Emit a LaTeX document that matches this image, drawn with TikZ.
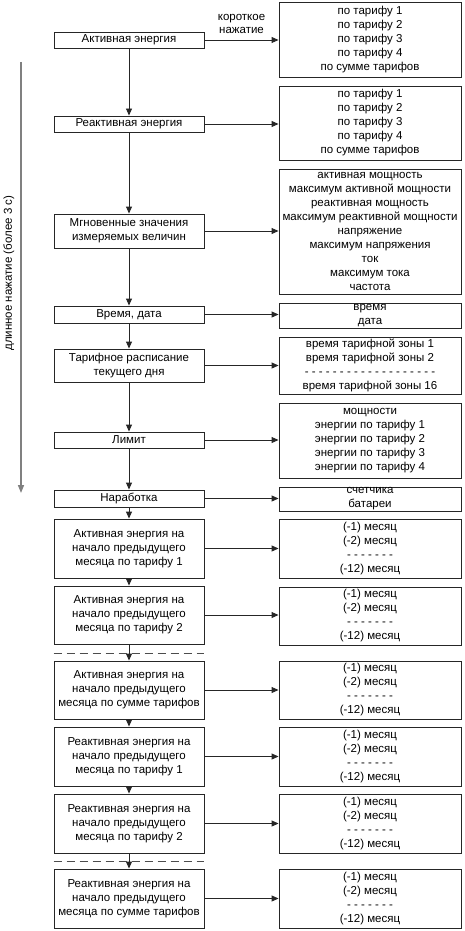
\documentclass[tikz,border=0pt]{standalone}
\usepackage{fontspec}
\setmainfont{Liberation Sans}
\usetikzlibrary{arrows.meta}

\begin{document}
\begin{tikzpicture}[
    x=1pt, y=-1pt,
    % Box styles
    menu box/.style={draw=black!85, line width=0.9pt, minimum width=150pt, inner sep=0pt, align=center, font=\fontsize{11.5}{14}\selectfont},
    list box/.style={draw=black!85, line width=0.9pt, minimum width=182pt, inner sep=0pt, align=center, font=\fontsize{11.5}{14}\selectfont},
    % Arrow styles
    my edge/.style={-{Triangle[length=7pt, width=6pt]}, line width=0.9pt, draw=black!85},
    long edge/.style={-{Triangle[length=8pt, width=6pt]}, line width=1.5pt, draw=gray},
    % Dashed separators
    sep line/.style={dash pattern=on 8pt off 5pt, line width=1pt, draw=black!70},
    edge label/.style={font=\fontsize{11.5}{13}\selectfont, align=center}
  ]
  \useasboundingbox (0,0) rectangle (464,931);

  % --- Menu Items (left column) ---
  \node[menu box, minimum height=16pt] (ae)    at (129,40)    {Активная энергия};
  \node[menu box, minimum height=16pt] (re)    at (129,124)   {Реактивная энергия};
  \node[menu box, minimum height=34pt] (inst)  at (129,231)   {Мгновенные значения\\измеряемых величин};
  \node[menu box, minimum height=17pt] (time)  at (129,314.5) {Время, дата};
  \node[menu box, minimum height=33pt] (sched) at (129,365.5) {Тарифное расписание\\текущего дня};
  \node[menu box, minimum height=16pt] (limit) at (129,440)   {Лимит};
  \node[menu box, minimum height=17pt] (run)   at (129,498.5) {Наработка};
  \node[menu box, minimum height=59pt] (aeA)   at (129,548.5) {Активная энергия на\\начало предыдущего\\месяца по тарифу 1};
  \node[menu box, minimum height=58pt] (aeB)   at (129,615)   {Активная энергия на\\начало предыдущего\\месяца по тарифу 2};
  \node[menu box, minimum height=58pt] (aeS)   at (129,690)   {Активная энергия на\\начало предыдущего\\месяца по сумме тарифов};
  \node[menu box, minimum height=59pt] (reA)   at (129,756.5) {Реактивная энергия на\\начало предыдущего\\месяца по тарифу 1};
  \node[menu box, minimum height=59pt] (reB)   at (129,823.5) {Реактивная энергия на\\начало предыдущего\\месяца по тарифу 2};
  \node[menu box, minimum height=59pt] (reS)   at (129,898.5) {Реактивная энергия на\\начало предыдущего\\месяца по сумме тарифов};

  % --- Sub-items (right column) ---
  \node[list box, minimum height=75pt]  (ae list)    at (370,39.5)  {по тарифу 1\\по тарифу 2\\по тарифу 3\\по тарифу 4\\по сумме тарифов};
  \node[list box, minimum height=74pt]  (re list)    at (370,123)   {по тарифу 1\\по тарифу 2\\по тарифу 3\\по тарифу 4\\по сумме тарифов};
  \node[list box, minimum height=125pt] (inst list)  at (370,231.5) {активная мощность\\максимум активной мощности\\реактивная мощность\\максимум реактивной мощности\\напряжение\\максимум напряжения\\ток\\максимум тока\\частота};
  \node[list box, minimum height=25pt]  (time list)  at (370,315.5) {время\\дата};
  \node[list box, minimum height=57pt]  (sched list) at (370,365.5) {время тарифной зоны 1\\время тарифной зоны 2\\- - - - - - - - - - - - - - - - - - -\\время тарифной зоны 16};
  \node[list box, minimum height=75pt]  (limit list) at (370,440.5) {мощности\\энергии по тарифу 1\\энергии по тарифу 2\\энергии по тарифу 3\\энергии по тарифу 4};
  \node[list box, minimum height=24pt]  (run list)   at (370,499)   {счетчика\\батареи};
  \node[list box, minimum height=59pt]  (aeA list)   at (370,548.5) {(-1) месяц\\(-2) месяц\\- - - - - - -\\(-12) месяц};
  \node[list box, minimum height=58pt]  (aeB list)   at (370,616)   {(-1) месяц\\(-2) месяц\\- - - - - - -\\(-12) месяц};
  \node[list box, minimum height=58pt]  (aeS list)   at (370,690)   {(-1) месяц\\(-2) месяц\\- - - - - - -\\(-12) месяц};
  \node[list box, minimum height=59pt]  (reA list)   at (370,756.5) {(-1) месяц\\(-2) месяц\\- - - - - - -\\(-12) месяц};
  \node[list box, minimum height=59pt]  (reB list)   at (370,823.5) {(-1) месяц\\(-2) месяц\\- - - - - - -\\(-12) месяц};
  \node[list box, minimum height=59pt]  (reS list)   at (370,898.5) {(-1) месяц\\(-2) месяц\\- - - - - - -\\(-12) месяц};

  % --- Long press arrow ---
  \coordinate (press top) at (21,62);
  \coordinate (press end) at (21,493);
  \draw[long edge] (press top) -- node[pos=0.49, rotate=90, anchor=south, inner sep=6pt, font=\fontsize{11.5}{13}\selectfont] {длинное нажатие (более 3 с)} (press end);

  % --- Edges ---
  \begin{scope}[my edge]
    % Short press: menu item -> sub-items
    \draw (ae.east) -- node[edge label, above=3pt] {короткое\\нажатие} (ae.east -| ae list.west);
    \foreach \item in {re, inst, time, sched, limit, run, aeA, aeB, aeS, reA, reB, reS}
      \draw (\item.east) -- (\item.east -| \item\space list.west);

    % Long press: next menu item
    \draw (ae) -- (re);
    \draw (re) -- (inst);
    \draw (inst) -- (time);
    \draw (time) -- (sched);
    \draw (sched) -- (limit);
    \draw (limit) -- (run);
    \draw (run) -- (aeA);
    \draw (aeA) -- (aeB);
    \draw (aeB) -- (aeS);
    \draw (aeS) -- (reA);
    \draw (reA) -- (reB);
    \draw (reB) -- (reS);
  \end{scope}

  % Skipped items
  \draw[sep line] (aeB.south west |- 0,653) -- (aeB.south east |- 0,653);
  \draw[sep line] (reB.south west |- 0,861) -- (reB.south east |- 0,861);

\end{tikzpicture}
\end{document}
